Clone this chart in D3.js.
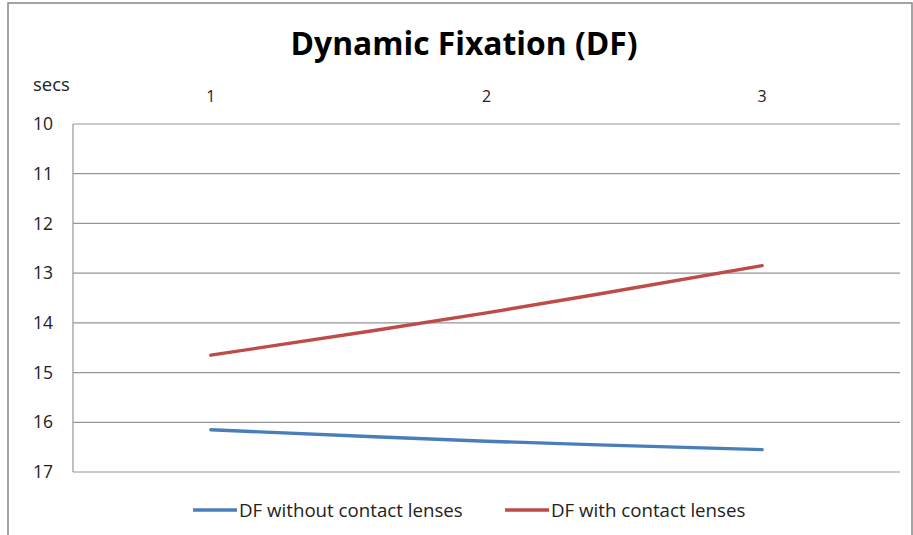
<!DOCTYPE html>
<html>
<head>
<meta charset="utf-8">
<script src="https://cdn.jsdelivr.net/npm/d3@7"></script>
<style>
  html, body { margin: 0; padding: 0; background: #fff; }
  svg { display: block; font-family: "Open Sans", sans-serif; }
</style>
</head>
<body>
<svg id="chart" width="913" height="535"></svg>
<script>
// Trial numbers along the top axis
const trials = ["1", "2", "3"];
// Dynamic fixation times in seconds
const withoutLenses = [16.15, 16.38, 16.55];
const withLenses = [14.65, 13.80, 12.85];
const seriesNames = ["DF without contact lenses", "DF with contact lenses"];
const seriesColors = ["#4A7EBB", "#BE4B48"];
const yTicks = [10, 11, 12, 13, 14, 15, 16, 17];

const FONT = "'Open Sans', sans-serif";
const svg = d3.select("#chart");
const W = 913, H = 535;
const plot = { left: 73, top: 124, right: 900, bottom: 472 };

// Outer frame
svg.append("rect")
  .attr("x", 8).attr("y", 3)
  .attr("width", W - 9).attr("height", H)
  .attr("fill", "#fff")
  .attr("stroke", "#868686").attr("stroke-width", 1.5);

// Title
svg.append("text")
  .attr("x", 464).attr("y", 55)
  .attr("text-anchor", "middle")
  .attr("font-family", FONT)
  .attr("font-size", 31.8).attr("font-weight", "bold")
  .attr("fill", "#000")
  .text("Dynamic Fixation (DF)");

const x = d3.scaleBand().domain(trials).range([plot.left, plot.right]);
const y = d3.scaleLinear().domain([10, 17]).range([plot.top, plot.bottom]);

// Horizontal gridlines
svg.append("g")
  .selectAll("line")
  .data(yTicks)
  .join("line")
  .attr("x1", plot.left).attr("x2", plot.right)
  .attr("y1", d => y(d)).attr("y2", d => y(d))
  .attr("stroke", "#969696").attr("stroke-width", 1.2);

// Vertical axis line
svg.append("line")
  .attr("x1", plot.left).attr("x2", plot.left)
  .attr("y1", plot.top).attr("y2", plot.bottom)
  .attr("stroke", "#969696").attr("stroke-width", 1.2);

// Y tick labels
const yAxis = d3.axisLeft(y).tickValues(yTicks).tickFormat(d3.format("d"))
  .tickSize(0).tickPadding(20);
const gy = svg.append("g").attr("transform", `translate(${plot.left},0)`).call(yAxis);
gy.select(".domain").remove();
gy.selectAll("text")
  .attr("font-family", FONT)
  .attr("font-size", 17.5).attr("fill", "#222");

// X tick labels along the top
const xAxis = d3.axisTop(x).tickSize(0).tickPadding(0);
const gx = svg.append("g").attr("transform", "translate(0,102)").call(xAxis);
gx.select(".domain").remove();
gx.selectAll("text")
  .attr("font-family", FONT)
  .attr("font-size", 16).attr("fill", "#222");

// Axis unit
svg.append("text")
  .attr("x", 33).attr("y", 91)
  .attr("font-family", FONT)
  .attr("font-size", 18.5).attr("fill", "#222")
  .text("secs");

// Series lines
const line = d3.line()
  .x((d, i) => x(trials[i]) + x.bandwidth() / 2)
  .y(d => y(d))
  .curve(d3.curveCatmullRom);

[withoutLenses, withLenses].forEach((vals, k) => {
  svg.append("path")
    .datum(vals)
    .attr("d", line)
    .attr("fill", "none")
    .attr("stroke", seriesColors[k])
    .attr("stroke-width", 3.4)
    .attr("stroke-linecap", "round");
});

// Legend
const legendX = [193, 505];
seriesNames.forEach((name, k) => {
  const g = svg.append("g").attr("transform", `translate(${legendX[k]},510)`);
  g.append("line")
    .attr("x1", 0).attr("x2", 44)
    .attr("stroke", seriesColors[k]).attr("stroke-width", 3.4);
  g.append("text")
    .attr("x", 46).attr("y", 6.5)
    .attr("font-family", FONT)
    .attr("font-size", 18.7).attr("fill", "#222")
    .text(name);
});
</script>
</body>
</html>
